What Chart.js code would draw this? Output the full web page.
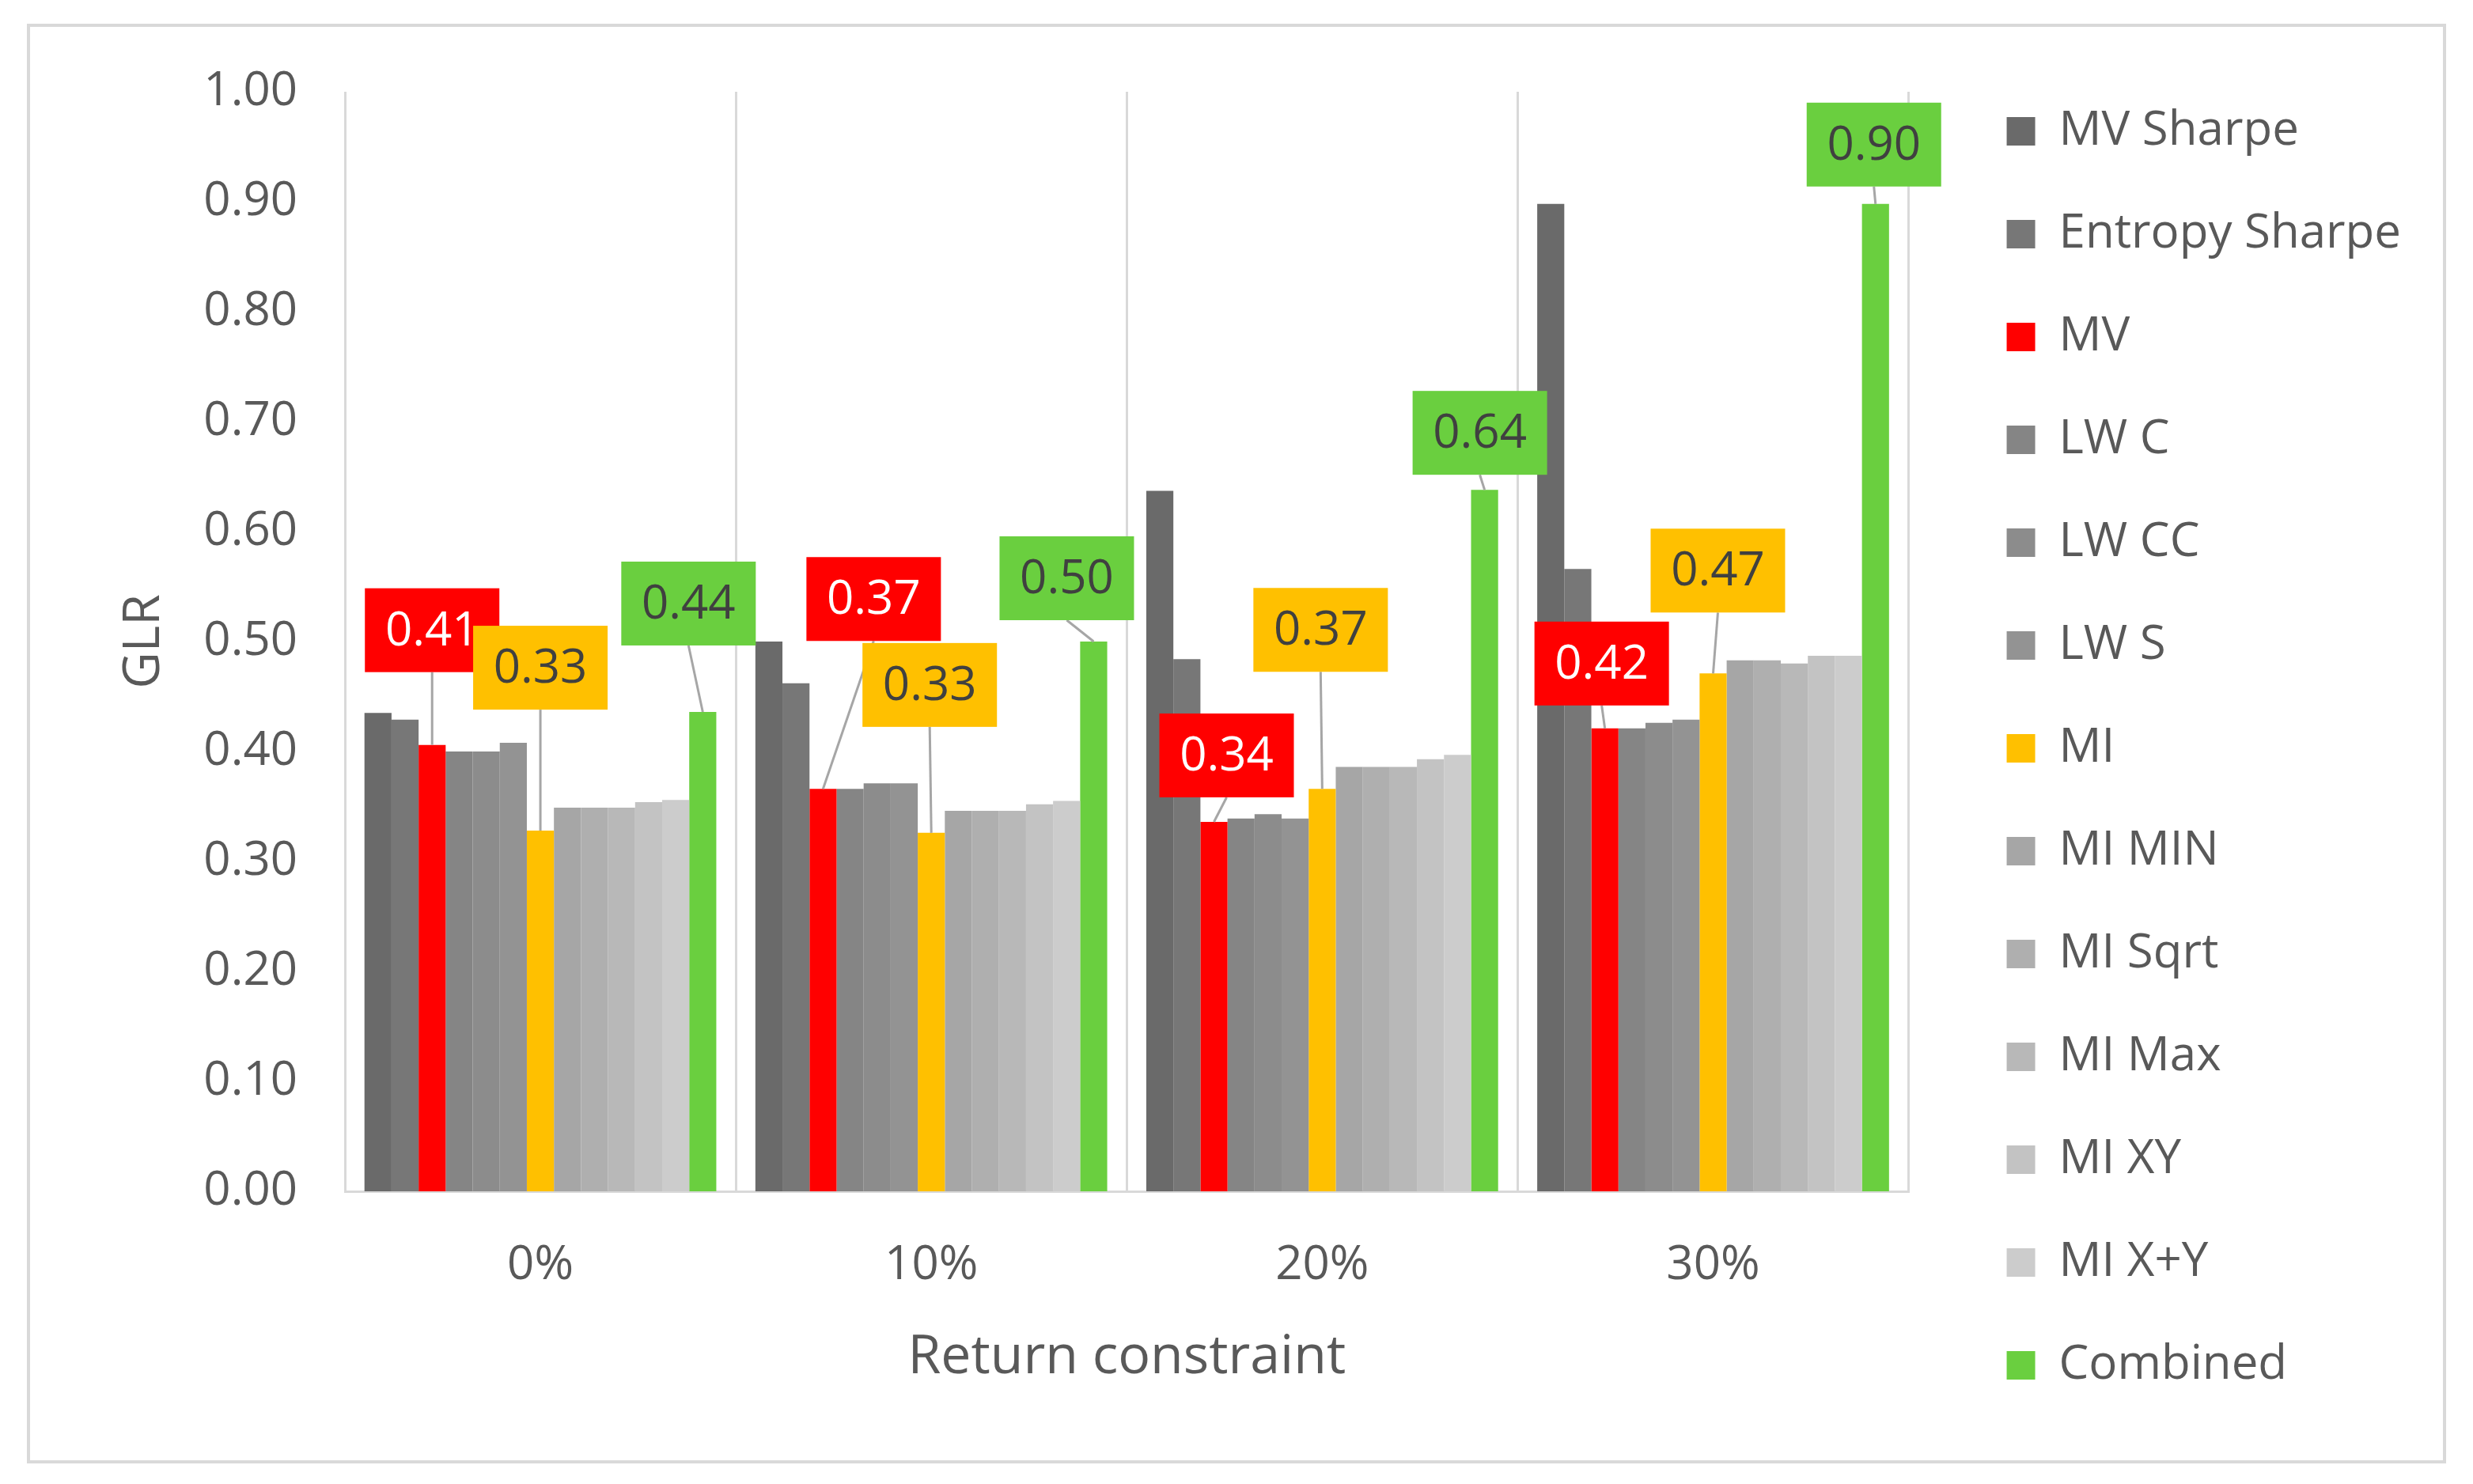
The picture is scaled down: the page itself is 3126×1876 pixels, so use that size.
<!DOCTYPE html>
<html>
<head>
<meta charset="utf-8">
<script src="https://cdn.jsdelivr.net/npm/chart.js@4.4.1/dist/chart.umd.min.js"></script>
<style>
  html, body { margin: 0; padding: 0; background: #fff; }
  canvas { display: block; }
</style>
</head>
<body>
<canvas id="myChart" width="3126" height="1876"></canvas>
<script>
// GLR per return constraint
const categories = ["0%", "10%", "20%", "30%"];
const mvSharpe = [0.435, 0.500, 0.637, 0.898];
const entropySharpe = [0.429, 0.462, 0.484, 0.566];
const mv = [0.406, 0.366, 0.336, 0.421];
const lwC = [0.400, 0.366, 0.339, 0.421];
const lwCC = [0.400, 0.371, 0.343, 0.426];
const lwS = [0.408, 0.371, 0.339, 0.429];
const mi = [0.328, 0.326, 0.366, 0.471];
const miMin = [0.349, 0.346, 0.386, 0.483];
const miSqrt = [0.349, 0.346, 0.386, 0.483];
const miMax = [0.349, 0.346, 0.386, 0.480];
const miXY = [0.354, 0.352, 0.393, 0.487];
const miXplusY = [0.356, 0.355, 0.397, 0.487];
const combined = [0.436, 0.500, 0.638, 0.898];

const series = [
  ["MV Sharpe", mvSharpe, "#6a6a6a"],
  ["Entropy Sharpe", entropySharpe, "#777777"],
  ["MV", mv, "#ff0000"],
  ["LW C", lwC, "#858585"],
  ["LW CC", lwCC, "#8c8c8c"],
  ["LW S", lwS, "#939393"],
  ["MI", mi, "#ffc000"],
  ["MI MIN", miMin, "#a6a6a6"],
  ["MI Sqrt", miSqrt, "#afafaf"],
  ["MI Max", miMax, "#b8b8b8"],
  ["MI XY", miXY, "#c3c3c3"],
  ["MI X+Y", miXplusY, "#cccccc"],
  ["Combined", combined, "#6acf3f"],
];

// callout boxes: dataset index -> offset of box centre from bar top, per category
const callouts = {
  2: { text: "#ffffff", offsets: [[0, -145], [64, -240], [16, -84], [-4, -82]] },
  6: { text: "#404040", offsets: [[0, -206], [-2, -187], [-2, -201], [6, -130]] },
  12: { text: "#404040", offsets: [[-18, -137], [-34, -80], [-6, -72], [-2, -75]] },
};

const frame = {
  id: "frame",
  beforeDraw(chart) {
    const c = chart.ctx;
    c.save();
    c.fillStyle = "#ffffff";
    c.fillRect(0, 0, chart.width, chart.height);
    c.strokeStyle = "#d9d9d9";
    c.lineWidth = 4;
    c.strokeRect(36, 32, chart.width - 72, chart.height - 60);
    c.restore();
  },
};

const calloutPlugin = {
  id: "callouts",
  afterDatasetsDraw(chart) {
    const c = chart.ctx;
    const w = 170, h = 106;
    c.save();
    c.font = "60px 'Open Sans'";
    c.textAlign = "center";
    c.textBaseline = "middle";
    Object.keys(callouts).forEach(function (key) {
      const di = Number(key);
      const info = callouts[key];
      const meta = chart.getDatasetMeta(di);
      const ds = chart.data.datasets[di];
      meta.data.forEach(function (bar, i) {
        const cx = bar.x + info.offsets[i][0];
        const cy = bar.y + info.offsets[i][1];
        const bottom = cy + h / 2;
        if (bar.y - bottom > 8) {
          c.strokeStyle = "#a6a6a6";
          c.lineWidth = 3;
          c.beginPath();
          c.moveTo(cx, bottom);
          c.lineTo(bar.x, bar.y);
          c.stroke();
        }
        c.fillStyle = ds.backgroundColor;
        c.fillRect(cx - w / 2, cy - h / 2, w, h);
        c.fillStyle = info.text;
        c.fillText(ds.data[i].toFixed(2), cx, cy + 2);
      });
    });
    c.restore();
  },
};

Chart.defaults.font.family = "'Open Sans', sans-serif";
Chart.defaults.color = "#595959";

const ctx = document.getElementById("myChart");
new Chart(ctx, {
  type: "bar",
  data: {
    labels: categories,
    datasets: series.map(function (s) {
      return {
        label: s[0],
        data: s[1],
        backgroundColor: s[2],
        borderWidth: 0,
        categoryPercentage: 0.9,
        barPercentage: 1.0,
      };
    }),
  },
  options: {
    responsive: false,
    devicePixelRatio: 1,
    animation: false,
    layout: { padding: { left: 100, top: 58, right: 81, bottom: 42 } },
    plugins: {
      tooltip: { enabled: false },
      // empty title only reserves the space above the plot
      title: { display: true, text: "", font: { size: 10 }, padding: { top: 46, bottom: 0 } },
      legend: {
        position: "right",
        maxWidth: 800,
        labels: {
          boxWidth: 36,
          boxHeight: 36,
          padding: 70,
          font: { size: 60 },
          color: "#595959",
        },
      },
    },
    scales: {
      x: {
        grid: { display: true, color: "#d9d9d9", lineWidth: 3, drawTicks: false, offset: true },
        border: { display: true, color: "#d9d9d9", width: 3 },
        ticks: { font: { size: 60 }, padding: 58, color: "#595959" },
        title: {
          display: true,
          text: "Return constraint",
          font: { size: 68 },
          color: "#595959",
          padding: { top: 0, bottom: 77 },
        },
        afterFit: function (s) { s.height = 328; },
      },
      y: {
        min: 0,
        max: 1,
        grid: { display: false, drawTicks: false },
        border: { display: false },
        ticks: {
          stepSize: 0.1,
          padding: 60,
          font: { size: 60 },
          color: "#595959",
          callback: function (v) { return Number(v).toFixed(2); },
        },
        title: {
          display: true,
          text: "GLR",
          font: { size: 64 },
          color: "#595959",
          padding: { top: 44, bottom: 0 },
        },
        afterFit: function (s) { s.width = 336; },
      },
      gap: {
        type: "linear",
        position: "right",
        display: true,
        grid: { display: false, drawTicks: false },
        border: { display: false },
        ticks: { display: false },
        afterFit: function (s) { s.width = 54; },
      },
    },
  },
  plugins: [frame, calloutPlugin],
});
</script>
</body>
</html>
